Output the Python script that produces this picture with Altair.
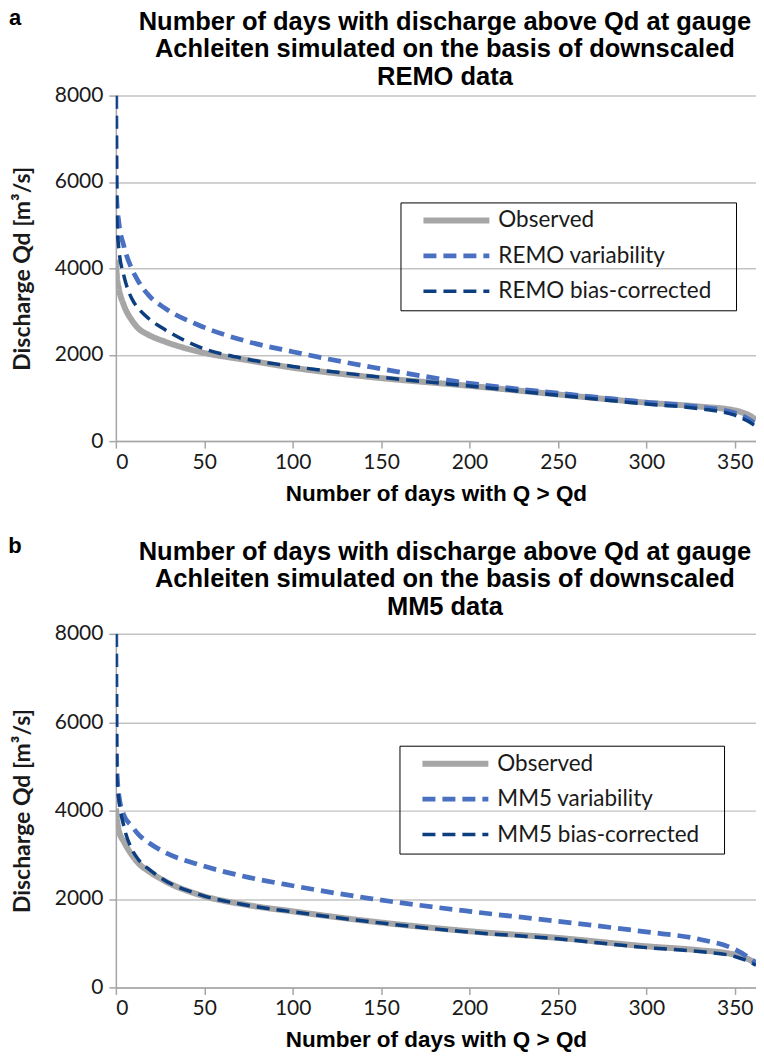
import altair as alt
import pandas as pd

# ---- data ----
days = [0, 0.5, 1.7, 4.5, 9, 13, 18.5, 28, 46, 75, 100, 145, 200, 250, 300, 330, 350, 357, 362]

series_a = ["Observed", "REMO variability", "REMO bias-corrected"]
obs_a = [4200, 3850, 3530, 3150, 2800, 2600, 2460, 2300, 2080, 1870, 1700, 1480, 1280, 1080, 890, 800, 710, 620, 500]
var_a = [8000, 5600, 5060, 4520, 3990, 3680, 3380, 3070, 2700, 2300, 2070, 1710, 1340, 1110, 900, 790, 650, 530, 400]
bc_a = [8000, 5200, 4450, 3835, 3300, 3060, 2840, 2575, 2200, 1890, 1730, 1500, 1275, 1060, 860, 750, 600, 470, 340]

series_b = ["Observed", "MM5 variability", "MM5 bias-corrected"]
obs_b = [4050, 3850, 3550, 3300, 3000, 2800, 2630, 2400, 2110, 1860, 1720, 1490, 1270, 1120, 930, 840, 740, 650, 540]
var_b = [8000, 5000, 4350, 3900, 3650, 3450, 3275, 3050, 2790, 2490, 2300, 2005, 1720, 1495, 1256, 1090, 860, 700, 560]
bc_b = [8000, 4770, 4250, 3650, 3130, 2880, 2680, 2415, 2117, 1855, 1710, 1480, 1250, 1100, 900, 810, 700, 600, 500]

x_ticks = [0, 50, 100, 150, 200, 250, 300, 350]
y_ticks = [0, 2000, 4000, 6000, 8000]

title_a = ["Number of days with discharge above Qd at gauge",
           "Achleiten simulated on the basis of downscaled",
           "REMO data"]
title_b = ["Number of days with discharge above Qd at gauge",
           "Achleiten simulated on the basis of downscaled",
           "MM5 data"]

colors = ["#a6a6a6", "#4a70c2", "#0c3e80"]
dashes = [[1, 0], [13, 7], [13, 7]]
widths = [6, 3.5, 4.5]

LABEL_FONT = "Lato"
TITLE_FONT = "Liberation Sans"
PLOT_W = 641


def panel(label, title_lines, series, obs, var, bc, height, lx, ly, label_y, title_y):
    rows = []
    for name, vals in zip(series, [obs, var, bc]):
        for i, (d, q) in enumerate(zip(days, vals)):
            rows.append({"days": d, "q": q, "series": name, "i": i})
    df = pd.DataFrame(rows)

    leg = alt.Legend(
        title=None, orient="none", legendX=lx, legendY=ly,
        symbolType="stroke", symbolSize=4356, clipHeight=22,
        labelFont=LABEL_FONT, labelFontSize=22.5, labelColor="#1a1a1a",
        labelOffset=6, padding=7, rowPadding=12.5, symbolOffset=13,
        strokeColor="black", labelLimit=400,
        labelExpr="datum.label + '\u2800'",
    )

    lines = alt.Chart(df).mark_line(interpolate="monotone", clip=True).encode(
        x=alt.X("days:Q", scale=alt.Scale(domain=[0, 362], nice=False, zero=True),
                title="Number of days with Q > Qd",
                axis=alt.Axis(values=x_ticks, format="d", grid=False, domainColor="#a6a6a6", domainWidth=1.5,
                              tickColor="#a6a6a6", tickSize=7, tickWidth=1.5,
                              labelFont=LABEL_FONT, labelFontSize=21, labelColor="#1a1a1a",
                              labelPadding=3, titleFont=TITLE_FONT, titleFontWeight="bold",
                              titleFontSize=22.5, titlePadding=10, titleColor="black")),
        y=alt.Y("q:Q", scale=alt.Scale(domain=[0, 8000], nice=False),
                title="Discharge Qd [m³/s]",
                axis=alt.Axis(values=y_ticks, format="d", grid=True, gridColor="#c3c3c3", gridWidth=1.5,
                              domainColor="#a6a6a6", domainWidth=1.5,
                              tickColor="#a6a6a6", tickSize=7, tickWidth=1.5,
                              labelFont=LABEL_FONT, labelFontSize=21, labelColor="#1a1a1a",
                              labelPadding=6, titleFont=LABEL_FONT, titleFontWeight="bold",
                              titleFontSize=23, titlePadding=20, titleColor="#1a1a1a")),
        color=alt.Color("series:N", scale=alt.Scale(domain=series, range=colors), legend=leg),
        strokeDash=alt.StrokeDash("series:N", scale=alt.Scale(domain=series, range=dashes), legend=leg),
        strokeWidth=alt.StrokeWidth("series:N", scale=alt.Scale(domain=series, range=widths), legend=leg),
        order="i:Q",
    )

    lab = alt.Chart(alt.Data(values=[{"t": label}])).mark_text(
        font=TITLE_FONT, fontSize=22, fontWeight="bold", align="center", baseline="middle", color="black"
    ).encode(text="t:N", x=alt.value(-101), y=alt.value(label_y))

    ttl = alt.Chart(alt.Data(values=[{"k": 0}])).mark_text(
        font=TITLE_FONT, fontSize=25.5, fontWeight="bold", align="center", baseline="middle",
        color="black", lineHeight=27.5
    ).encode(text=alt.value(title_lines), x=alt.value(PLOT_W / 2 + 9), y=alt.value(title_y))

    return alt.layer(lines, lab, ttl).properties(width=PLOT_W, height=height)


pa = panel("a", title_a, series_a, obs_a, var_a, bc_a, 346, 285, 107, -78, -74)
pb = panel("b", title_b, series_b, obs_b, var_b, bc_b, 354, 284, 112, -88, -82)

chart = alt.vconcat(pa, pb, spacing=30).resolve_scale(
    color="independent", strokeDash="independent", strokeWidth="independent"
).properties(
    padding={"left": 0, "top": -2, "right": 0, "bottom": 0}
).configure_view(stroke=None)

chart.save("out.html", embed_options={"renderer": "svg", "actions": False})
